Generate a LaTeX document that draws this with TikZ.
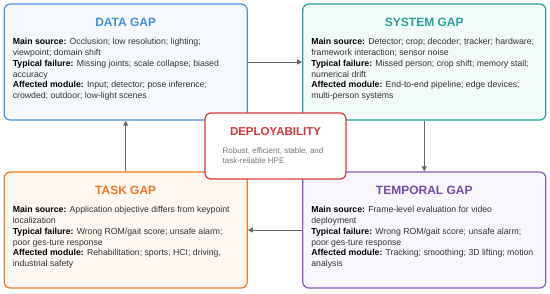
\documentclass[tikz,border=0pt]{standalone}
\usepackage{fontspec}
\setmainfont{Liberation Sans}
\usetikzlibrary{arrows.meta}
\definecolor{cdata}{HTML}{4A90D9}
\definecolor{csys}{HTML}{2AA198}
\definecolor{ctask}{HTML}{F07826}
\definecolor{ctemp}{HTML}{8A5CC2}
\definecolor{cdep}{HTML}{D33A3A}
\definecolor{fdata}{HTML}{F5F9FE}
\definecolor{fsys}{HTML}{F3FBFA}
\definecolor{ftask}{HTML}{FFF8F2}
\definecolor{ftemp}{HTML}{F9F6FD}
\definecolor{ctext}{HTML}{333333}
\definecolor{cline}{HTML}{666666}
\definecolor{csub}{HTML}{777777}
\begin{document}
\begin{tikzpicture}[x=1pt,y=-1pt,
  gapbox/.style={draw, rounded corners=6pt, line width=1.2pt, minimum width=243pt, minimum height=116pt, inner sep=0pt},
  gaptitle/.style={font=\fontsize{12}{14}\selectfont\bfseries, anchor=center},
  gapbody/.style={font=\fontsize{8.7}{10.7}\selectfont, text=ctext, align=left, anchor=north west, inner sep=0pt},
  conn/.style={draw=cline, line width=1pt, -{Triangle[length=5pt,width=5pt]}}
]
\useasboundingbox (0,0) rectangle (550,293);
\fill[white] (0,0) rectangle (550,293);

\node[gapbox, draw=cdata, fill=fdata] (data) at (125.7,62) {};
\node[gapbox, draw=csys, fill=fsys] (sys) at (424.3,62) {};
\node[gapbox, draw=ctask, fill=ftask] (task) at (125.7,230) {};
\node[gapbox, draw=ctemp, fill=ftemp] (temp) at (424.3,230) {};

\node[gaptitle, text=cdata] (dataT) at ([yshift=-19pt]data.north) {DATA GAP};
\node[gaptitle, text=csys] (sysT) at ([yshift=-19pt]sys.north) {SYSTEM GAP};
\node[gaptitle, text=ctask] (taskT) at ([yshift=-19pt]task.north) {TASK GAP};
\node[gaptitle, text=ctemp!85!black] (tempT) at ([yshift=-19pt]temp.north) {TEMPORAL GAP};

\node[gapbody] (dataB) at ([xshift=9pt,yshift=-35pt]data.north west) {%
\textbf{\color{black}Main source:} Occlusion; low resolution; lighting;\\
viewpoint; domain shift\\
\textbf{\color{black}Typical failure:} Missing joints; scale collapse; biased\\
accuracy\\
\textbf{\color{black}Affected module:} Input; detector; pose inference;\\
crowded; outdoor; low-light scenes};

\node[gapbody] (sysB) at ([xshift=9pt,yshift=-35pt]sys.north west) {%
\textbf{\color{black}Main source:} Detector; crop; decoder; tracker; hardware;\\
framework interaction; sensor noise\\
\textbf{\color{black}Typical failure:} Missed person; crop shift; memory stall;\\
numerical drift\\
\textbf{\color{black}Affected module:} End-to-end pipeline; edge devices;\\
multi-person systems};

\node[gapbody] (taskB) at ([xshift=9pt,yshift=-35pt]task.north west) {%
\textbf{\color{black}Main source:} Application objective differs from keypoint\\
localization\\
\textbf{\color{black}Typical failure:} Wrong ROM/gait score; unsafe alarm;\\
poor ges-ture response\\
\textbf{\color{black}Affected module:} Rehabilitation; sports; HCI; driving,\\
industrial safety};

\node[gapbody] (tempB) at ([xshift=9pt,yshift=-35pt]temp.north west) {%
\textbf{\color{black}Main source:} Frame-level evaluation for video\\
deployment\\
\textbf{\color{black}Typical failure:} Wrong ROM/gait score; unsafe alarm;\\
poor ges-ture response\\
\textbf{\color{black}Affected module:} Tracking; smoothing; 3D lifting; motion\\
analysis};

\draw[conn] (data.east) -- (sys.west);
\draw[conn] (sys.south) -- (temp.north);
\draw[conn] (temp.west) -- (task.east);
\draw[conn] (task.north) -- (data.south);

\node[draw=cdep, fill=white, rounded corners=6pt, line width=1.2pt, minimum width=141pt, minimum height=66pt, inner sep=0pt] (dep) at (275.5,146) {};
\node[font=\fontsize{11.5}{13}\selectfont\bfseries, text=cdep] (depT) at ([yshift=-19pt]dep.north) {DEPLOYABILITY};
\node[font=\fontsize{8}{10.3}\selectfont, text=csub, align=left, anchor=north west, inner sep=0pt] (depB) at ([xshift=18pt,yshift=-35pt]dep.north west) {Robust, efficient, stable, and\\task-reliable HPE};
\end{tikzpicture}
\end{document}
